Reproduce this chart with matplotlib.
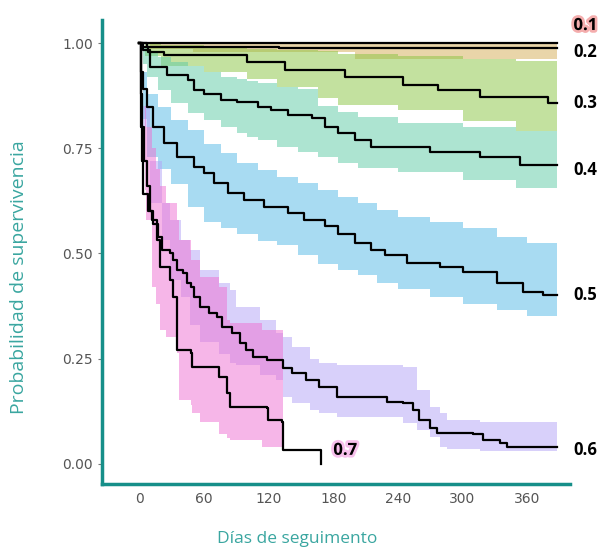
import numpy as np
import matplotlib
matplotlib.use("Agg")
import matplotlib.pyplot as plt
import matplotlib.patheffects as pe

# curvas de supervivencia (dias, probabilidad)
dias_01 = [0, 388]
surv_01 = [1.0, 1.0]

dias_02 = [0, 7, 130, 388]
surv_02 = [1.0, 0.99, 0.988, 0.988]

dias_03 = [0, 2, 8, 23, 100, 135, 191, 245, 277, 316, 379, 388]
surv_03 = [1.0, 0.99, 0.978, 0.971, 0.955, 0.936, 0.919, 0.900, 0.888, 0.872, 0.857, 0.857]

dias_04 = [0, 3, 10, 26, 45, 51, 60, 76, 91, 110, 122, 138, 160, 172, 184, 200, 215,
           270, 316, 353, 388]
surv_04 = [1.0, 0.983, 0.944, 0.924, 0.912, 0.888, 0.88, 0.865, 0.861, 0.849, 0.841,
           0.829, 0.821, 0.801, 0.785, 0.77, 0.754, 0.741, 0.729, 0.71, 0.71]

dias_05 = [0, 1, 3, 7, 13, 23, 35, 51, 60, 69, 82, 97, 116, 138, 153, 172, 184, 200,
           215, 228, 248, 279, 300, 332, 356, 375, 388]
surv_05 = [1.0, 0.93, 0.89, 0.849, 0.801, 0.762, 0.73, 0.706, 0.69, 0.667, 0.643, 0.627,
           0.611, 0.595, 0.58, 0.564, 0.545, 0.524, 0.508, 0.496, 0.477, 0.468, 0.456,
           0.43, 0.409, 0.401, 0.40]

dias_06 = [0, 1, 2, 4, 7, 10, 13, 17, 21, 28, 31, 35, 40, 44, 48, 51, 56, 65, 72, 77,
           86, 93, 99, 105, 118, 133, 142, 155, 167, 183, 223, 230, 245, 254, 260, 270,
           276, 310, 319, 335, 341, 363, 388]
surv_06 = [1.0, 0.88, 0.80, 0.72, 0.66, 0.60, 0.57, 0.539, 0.508, 0.501, 0.485, 0.461,
           0.454, 0.43, 0.42, 0.397, 0.373, 0.359, 0.349, 0.325, 0.311, 0.287, 0.271,
           0.254, 0.247, 0.228, 0.216, 0.20, 0.183, 0.159, 0.159, 0.147, 0.145, 0.128,
           0.105, 0.086, 0.074, 0.071, 0.057, 0.05, 0.04, 0.04, 0.04]

dias_07 = [0, 1, 2, 3, 8, 12, 16, 19, 28, 31, 35, 48, 49, 73, 74, 81, 84, 118, 119,
           132, 133, 169]
surv_07 = [1.0, 0.80, 0.72, 0.64, 0.60, 0.58, 0.532, 0.468, 0.437, 0.397, 0.271, 0.264,
           0.23, 0.23, 0.207, 0.169, 0.135, 0.133, 0.105, 0.10, 0.033, 0.0]

# intervalos de confianza
ic_dias_02 = [0, 10, 50, 200, 388]
ic_sup_02 = [1.0, 1.0, 1.0, 1.0, 1.0]
ic_inf_02 = [1.0, 0.985, 0.978, 0.963, 0.963]

ic_dias_03 = [0, 5, 20, 60, 100, 128, 166, 184, 240, 300, 350, 388]
ic_sup_03 = [1.0, 1.0, 0.995, 0.99, 0.985, 0.983, 0.98, 0.975, 0.97, 0.963, 0.958, 0.955]
ic_inf_03 = [1.0, 0.97, 0.945, 0.93, 0.915, 0.895, 0.87, 0.853, 0.84, 0.815, 0.79, 0.775]

ic_dias_04 = [0, 3, 7, 17, 29, 45, 60, 76, 91, 100, 110, 128, 147, 166, 184, 203, 240,
              300, 350, 388]
ic_sup_04 = [1.0, 0.99, 0.98, 0.967, 0.955, 0.945, 0.93, 0.92, 0.915, 0.91, 0.905, 0.895,
             0.89, 0.85, 0.835, 0.825, 0.81, 0.80, 0.79, 0.785]
ic_inf_04 = [1.0, 0.95, 0.919, 0.888, 0.857, 0.833, 0.817, 0.801, 0.785, 0.777, 0.77,
             0.754, 0.742, 0.73, 0.714, 0.702, 0.694, 0.675, 0.655, 0.64]

ic_dias_05 = [0, 3, 7, 17, 29, 45, 60, 76, 91, 110, 128, 147, 166, 184, 203, 221, 240,
              270, 300, 332, 360, 388]
ic_sup_05 = [1.0, 0.93, 0.88, 0.849, 0.817, 0.793, 0.761, 0.738, 0.714, 0.698, 0.682,
             0.667, 0.651, 0.635, 0.619, 0.603, 0.587, 0.575, 0.56, 0.54, 0.525, 0.505]
ic_inf_05 = [1.0, 0.82, 0.73, 0.70, 0.665, 0.61, 0.575, 0.56, 0.545, 0.53, 0.52, 0.497,
             0.475, 0.46, 0.448, 0.43, 0.415, 0.397, 0.38, 0.366, 0.35, 0.335]

ic_dias_06 = [0, 3, 10, 21, 28, 39, 47, 56, 74, 84, 90, 112, 127, 133, 142, 158, 167,
              183, 245, 258, 270, 279, 286, 316, 388]
ic_sup_06 = [1.0, 0.85, 0.72, 0.62, 0.58, 0.532, 0.508, 0.461, 0.43, 0.413, 0.373, 0.342,
             0.311, 0.30, 0.278, 0.25, 0.24, 0.235, 0.23, 0.176, 0.135, 0.12, 0.105,
             0.10, 0.097]
ic_inf_06 = [1.0, 0.80, 0.62, 0.532, 0.437, 0.397, 0.33, 0.29, 0.26, 0.24, 0.235, 0.21,
             0.20, 0.159, 0.145, 0.128, 0.12, 0.112, 0.097, 0.08, 0.064, 0.04, 0.035,
             0.029, 0.021]

ic_dias_07 = [0, 5, 6, 12, 15, 19, 25, 35, 37, 48, 49, 56, 74, 81, 84, 114, 133]
ic_sup_07 = [1.0, 0.85, 0.80, 0.75, 0.70, 0.66, 0.62, 0.58, 0.532, 0.485, 0.485, 0.444,
             0.42, 0.342, 0.335, 0.318, 0.318]
ic_inf_07 = [1.0, 0.65, 0.58, 0.42, 0.38, 0.318, 0.30, 0.264, 0.152, 0.14, 0.121, 0.10,
             0.07, 0.062, 0.057, 0.04, 0.026]

etiquetas = ["0.1", "0.2", "0.3", "0.4", "0.5", "0.6", "0.7"]
etiqueta_x = [403, 403, 403, 403, 403, 403, 180]
etiqueta_y = [1.043, 0.979, 0.857, 0.698, 0.40, 0.033, 0.033]

curvas = [(dias_01, surv_01), (dias_02, surv_02), (dias_03, surv_03), (dias_04, surv_04),
          (dias_05, surv_05), (dias_06, surv_06), (dias_07, surv_07)]
bandas = [(ic_dias_02, ic_sup_02, ic_inf_02, "#d5ad55"),
          (ic_dias_03, ic_sup_03, ic_inf_03, "#89c541"),
          (ic_dias_04, ic_sup_04, ic_inf_04, "#5dcba5"),
          (ic_dias_05, ic_sup_05, ic_inf_05, "#53b9e7"),
          (ic_dias_06, ic_sup_06, ic_inf_06, "#b3a3f7"),
          (ic_dias_07, ic_sup_07, ic_inf_07, "#ef6fd2")]

teal = "#3aa6a0"

fig = plt.figure(figsize=(6.06, 5.53), dpi=100)
ax = fig.add_axes([0.168, 0.125, 0.773, 0.839])

for d, sup, inf, col in bandas:
    ax.fill_between(d, inf, sup, step="post", color=col, alpha=0.5, linewidth=0)

for d, s in curvas:
    ax.step(d, s, where="post", color="black", linewidth=1.6)

glow = {"0.1": "#f08a8a", "0.7": "#f5a6e4"}
for lab, x, y in zip(etiquetas, etiqueta_x, etiqueta_y):
    t = ax.text(x, y, lab, fontsize=12, fontweight="bold", family="Open Sans",
                va="center", ha="left", clip_on=False)
    if lab in glow:
        t.set_path_effects([pe.withStroke(linewidth=4, foreground=glow[lab], alpha=0.7)])

ax.set_xlim(-35, 400)
ax.set_ylim(-0.048, 1.055)
ax.set_xticks([0, 60, 120, 180, 240, 300, 360])
ax.set_yticks([0, 0.25, 0.5, 0.75, 1.0])
ax.set_yticklabels(["0.00", "0.25", "0.50", "0.75", "1.00"])
ax.tick_params(colors="#777777", labelcolor="#555555", labelsize=10, length=3)
ax.tick_params(axis="x", length=0, pad=6)

for s in ["top", "right"]:
    ax.spines[s].set_visible(False)
for s in ["left", "bottom"]:
    ax.spines[s].set_color("#168f89")
    ax.spines[s].set_linewidth(2.5)

ax.set_ylabel("Probabilidad de supervivencia", color=teal, fontsize=14,
              family="Open Sans")
ax.set_xlabel("Días de seguimento", color=teal, fontsize=12.5,
              family="Open Sans")
ax.yaxis.set_label_coords(-0.158, 0.446)
ax.xaxis.set_label_coords(0.417, -0.101)

fig.savefig("out.png", dpi=100)
